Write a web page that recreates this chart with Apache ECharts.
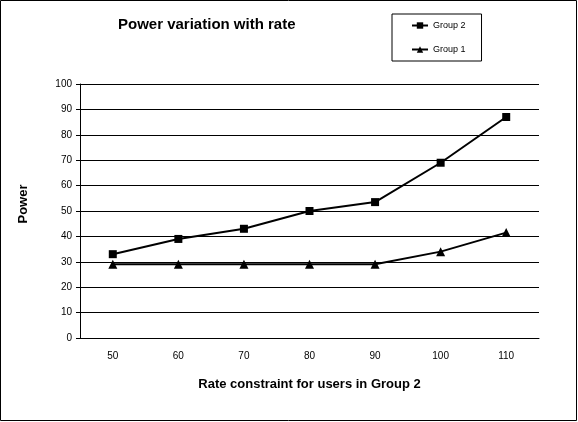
<!DOCTYPE html>
<html>
<head>
<meta charset="utf-8">
<script src="https://cdn.jsdelivr.net/npm/echarts@6/dist/echarts.min.js"></script>
<style>
  html, body { margin: 0; padding: 0; background: #fff; }
  #chart { width: 578px; height: 422px; }
</style>
</head>
<body>
<div id="chart"></div>
<script>
var rates = ['50', '60', '70', '80', '90', '100', '110'];
var group2 = [33, 39, 43, 50, 53.5, 69, 87];
var group1 = [29, 29, 29, 29, 29, 34, 41.5];
var powerTicks = { min: 0, max: 100, interval: 10 };

var chart = echarts.init(document.getElementById('chart'));

var axisText = { color: '#000', fontFamily: 'Liberation Sans', fontSize: 10 };

var option = {
    backgroundColor: '#fff',
    animation: false,
    graphic: [{
        type: 'rect',
        shape: { x: 0.5, y: 0.5, width: 576, height: 420 },
        style: { fill: 'none', stroke: '#000', lineWidth: 1 },
        silent: true
    }],
    title: {
        text: 'Power variation with rate',
        left: 113,
        top: 12,
        textStyle: {
            color: '#000',
            fontFamily: 'Liberation Sans',
            fontSize: 15,
            fontWeight: 'bold'
        }
    },
    legend: {
        orient: 'vertical',
        left: 392,
        top: 14,
        data: ['Group 2', 'Group 1'],
        borderColor: '#000',
        borderWidth: 1,
        padding: [7, 16, 7, 19],
        itemGap: 15,
        itemWidth: 16,
        itemHeight: 8,
        textStyle: { color: '#000', fontFamily: 'Liberation Sans', fontSize: 9 }
    },
    grid: {
        left: 80,
        right: 39,
        top: 84,
        bottom: 84
    },
    xAxis: {
        type: 'category',
        data: rates,
        name: 'Rate constraint for users in Group 2',
        nameLocation: 'middle',
        nameGap: 40,
        nameTextStyle: {
            color: '#000',
            fontFamily: 'Liberation Sans',
            fontSize: 13,
            fontWeight: 'bold'
        },
        axisLine: { lineStyle: { color: '#000', width: 1 } },
        axisTick: { length: 5, lineStyle: { color: '#000' } },
        axisLabel: Object.assign({ margin: 13 }, axisText)
    },
    yAxis: {
        type: 'value',
        min: powerTicks.min,
        max: powerTicks.max,
        interval: powerTicks.interval,
        name: 'Power',
        nameLocation: 'middle',
        nameGap: 50,
        nameTextStyle: {
            color: '#000',
            fontFamily: 'Liberation Sans',
            fontSize: 13,
            fontWeight: 'bold',
            padding: [0, 0, 0, 14]
        },
        axisLine: { show: true, lineStyle: { color: '#000', width: 1 } },
        axisTick: { show: true, length: 4, lineStyle: { color: '#000' } },
        axisLabel: Object.assign({ margin: 8 }, axisText),
        splitLine: { lineStyle: { color: '#000', width: 1 } }
    },
    series: [
        {
            name: 'Group 2',
            type: 'line',
            data: group2,
            symbol: 'rect',
            symbolSize: 8,
            lineStyle: { color: '#000', width: 2 },
            itemStyle: { color: '#000' }
        },
        {
            name: 'Group 1',
            type: 'line',
            data: group1,
            symbol: 'triangle',
            symbolSize: 9,
            lineStyle: { color: '#000', width: 2 },
            itemStyle: { color: '#000' }
        }
    ]
};

chart.setOption(option);
</script>
</body>
</html>
